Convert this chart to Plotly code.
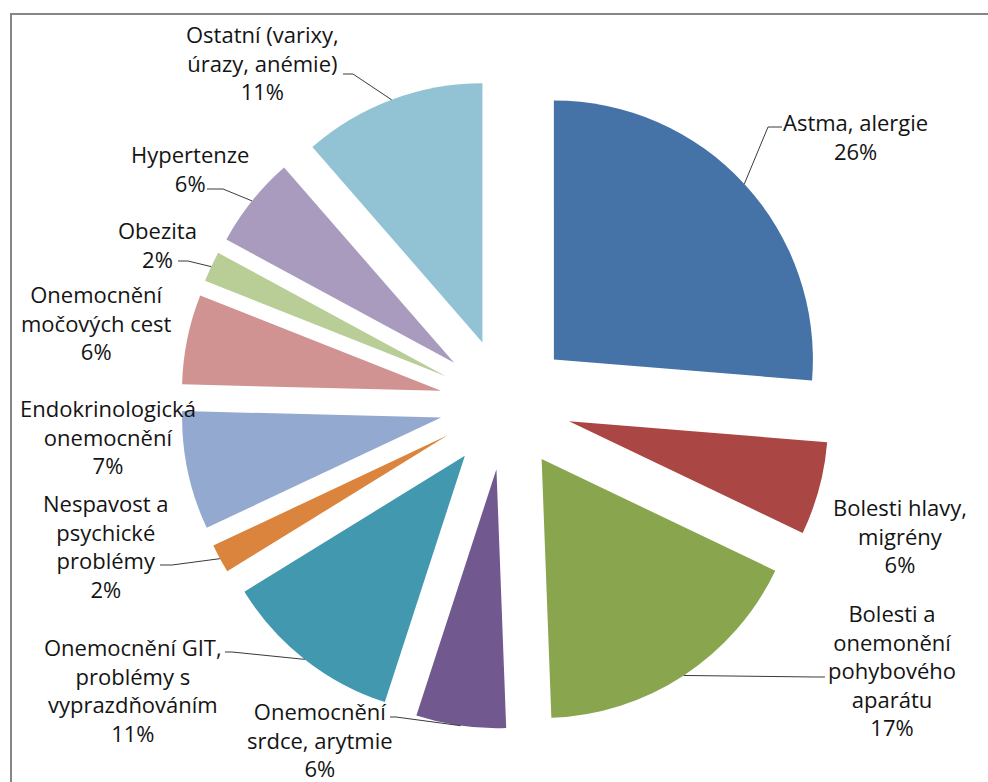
import math
import plotly.graph_objects as go

W, H = 988, 782

# Slices, clockwise from 12 o'clock
categories = [
    "Astma, alergie",
    "Bolesti hlavy, migrény",
    "Bolesti a onemonění pohybového aparátu",
    "Onemocnění srdce, arytmie",
    "Onemocnění GIT, problémy s vyprazdňováním",
    "Nespavost a psychické problémy",
    "Endokrinologická onemocnění",
    "Onemocnění močových cest",
    "Obezita",
    "Hypertenze",
    "Ostatní (varixy, úrazy, anémie)",
]
# Wrapped versions of the category names used in the data labels
label_text = [
    "Astma, alergie",
    "Bolesti hlavy,<br>migrény",
    "Bolesti a<br>onemonění<br>pohybového<br>aparátu",
    "Onemocnění<br>srdce, arytmie",
    "Onemocnění GIT,<br>problémy s<br>vyprazdňováním",
    "Nespavost a<br>psychické<br>problémy",
    "Endokrinologická<br>onemocnění",
    "Onemocnění<br>močových cest",
    "Obezita",
    "Hypertenze",
    "Ostatní (varixy,<br>úrazy, anémie)",
]
values = [26.3, 5.8, 17.3, 5.6, 11.2, 1.8, 7.4, 5.6, 1.9, 5.7, 11.4]
colors = [
    "#4572A7", "#AA4643", "#89A54E", "#71588F", "#4198AF", "#DB843D",
    "#93A9CF", "#D19392", "#B9CD96", "#A99BBD", "#92C3D4",
]

# Label block centres (pixels from top-left)
label_xy = [
    (855, 137), (900, 535), (892, 670), (320, 739), (133, 690), (106, 546),
    (108, 436), (96, 322), (157, 244), (190, 168), (262, 62),
]
# Leader lines: start next to the text, then a short horizontal elbow,
# then to the slice's outer arc at its mid-angle (None = no leader)
leaders = [
    ((782, 127), (768, 127)),
    None,
    ((825, 677), (815, 677)),
    ((390, 717), (396, 717)),
    ((225, 652), (232, 652)),
    ((160, 565), (172, 565)),
    None,
    None,
    ((178, 261), (188, 261)),
    ((207, 189), (223, 189)),
    ((343, 74), (353, 74)),
]

# Pie placement
pull = 0.254
cx_px, cy_px = 505.5, 404.0
outer = 324.8  # radius * (1 + pull)
dom_x = [(cx_px - outer) / W, (cx_px + outer) / W]
dom_y = [1 - (cy_px + outer) / H, 1 - (cy_px - outer) / H]


def px(x, y):
    return x / W, 1 - y / H


total = sum(values)
fig = go.Figure(
    go.Pie(
        labels=categories,
        values=values,
        sort=False,
        direction="clockwise",
        rotation=0,
        pull=[pull] * len(values),
        marker=dict(colors=colors, line=dict(width=0)),
        textinfo="none",
        domain=dict(x=dom_x, y=dom_y),
        showlegend=False,
    )
)

annotations = []
shapes = []
cum = 0.0
for i, v in enumerate(values):
    pct = round(100 * v / total)
    tx, ty = px(*label_xy[i])
    annotations.append(dict(
        x=tx, y=ty, xref="paper", yref="paper",
        text=f"{label_text[i]}<br>{pct}%",
        showarrow=False, xanchor="center", yanchor="middle", align="center",
        font=dict(family="Open Sans", size=22, color="#141414"),
    ))
    mid = 2 * math.pi * (cum + v / 2) / total
    cum += v
    if leaders[i] is not None:
        (sx, sy), (ex, ey) = leaders[i]
        ax = cx_px + outer * math.sin(mid)
        ay = cy_px - outer * math.cos(mid)
        p1, p2, p3 = px(sx, sy), px(ex, ey), px(ax, ay)
        shapes.append(dict(
            type="path", xref="paper", yref="paper",
            path=f"M {p1[0]} {p1[1]} L {p2[0]} {p2[1]} L {p3[0]} {p3[1]}",
            line=dict(color="#3a3a3a", width=1),
        ))

# Chart-area border
shapes.append(dict(
    type="rect", xref="paper", yref="paper",
    x0=11 / W, y0=1 - 14 / H, x1=1.05, y1=-0.05,
    line=dict(color="#868686", width=2), fillcolor="rgba(0,0,0,0)",
))

fig.update_layout(
    width=W, height=H,
    margin=dict(l=0, r=0, t=0, b=0),
    paper_bgcolor="white", plot_bgcolor="white",
    annotations=annotations, shapes=shapes,
)

fig.write_html("out.html")
